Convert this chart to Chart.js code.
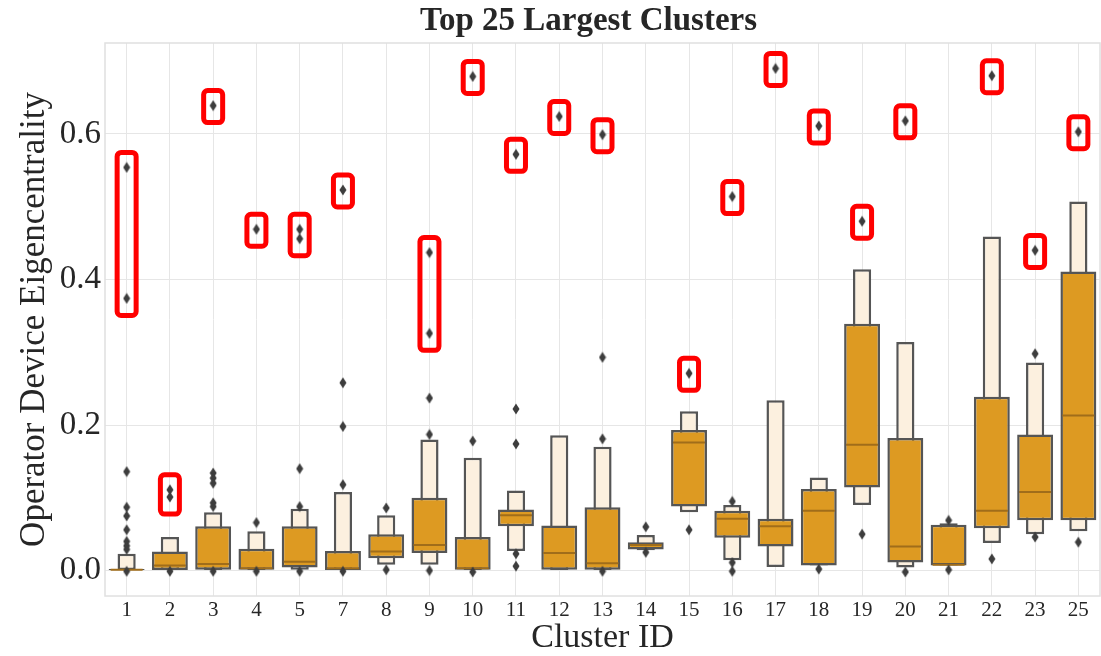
<!DOCTYPE html>
<html>
<head>
<meta charset="utf-8">
<script src="https://cdn.jsdelivr.net/npm/chart.js@4/dist/chart.umd.min.js"></script>
<style>
  html, body { margin: 0; padding: 0; background: #fff; overflow: hidden; }
</style>
</head>
<body>
<canvas id="c" width="1101" height="656"></canvas>
<script>
// cluster ids on the x axis
const clusters = ["1","2","3","4","5","7","8","9","10","11","12","13","14","15","16","17","18","19","20","21","22","23","25"];

// inner (quartile) boxes
const q1 = [0.000,0.000,0.001,0.001,0.004,0.000,0.017,0.024,0.001,0.061,0.001,0.001,0.029,0.088,0.045,0.033,0.007,0.114,0.011,0.007,0.058,0.069,0.069];
const q3 = [0.002,0.026,0.061,0.030,0.061,0.027,0.050,0.100,0.046,0.084,0.062,0.087,0.039,0.193,0.082,0.071,0.112,0.339,0.182,0.063,0.239,0.187,0.411];
const medians = [0.001,0.007,0.009,0.003,0.012,0.003,0.026,0.035,0.003,0.076,0.024,0.010,0.035,0.176,0.071,0.061,0.082,0.173,0.033,0.008,0.082,0.108,0.213];

// outer (eighths) boxes
const lowE  = [0.000,0.000,0.000,0.000,0.001,0.000,0.008,0.008,0.000,0.027,0.000,0.000,0.028,0.080,0.014,0.005,0.007,0.090,0.004,0.007,0.038,0.050,0.054];
const highE = [0.023,0.046,0.080,0.054,0.085,0.108,0.076,0.180,0.155,0.110,0.186,0.170,0.049,0.219,0.090,0.234,0.128,0.414,0.314,0.065,0.459,0.286,0.507];

// ordinary outliers
const outliers = [
  [0.136,0.087,0.075,0.056,0.040,0.034,0.029,-0.001],
  [-0.001],
  [0.134,0.127,0.120,0.093,0.088,-0.001],
  [0.066,-0.001],
  [0.140,0.088,-0.001],
  [0.258,0.198,0.118,-0.001],
  [0.086,0.001],
  [0.237,0.187,0.000],
  [0.178,-0.002],
  [0.222,0.174,0.023,0.006],
  [],
  [0.293,0.181,-0.001],
  [0.060,0.025],
  [0.056],
  [0.095,0.011,-0.001],
  [],
  [0.002],
  [0.050],
  [-0.002],
  [0.069,0.001],
  [0.016],
  [0.298,0.046],
  [0.039]
];

// outliers marked with the red frames
const flagged = [
  [0.554,0.374],[0.111,0.101],[0.639],[0.469],[0.469,0.456],[0.523],[],[0.437,0.326],[0.679],[0.572],
  [0.624],[0.599],[],[0.271],[0.514],[0.690],[0.611],[0.480],[0.618],[],[0.680],[0.440],[0.603]
];

const yTicks = [0, 0.2, 0.4, 0.6];
const chartTitle = 'Top 25 Largest Clusters';

const serif = '"Liberation Serif", "DejaVu Serif", serif';
const textCol = '#262626';

// elongated diamond marker
const diamond = document.createElement('canvas');
diamond.width = 8; diamond.height = 12;
(function () {
  const g = diamond.getContext('2d');
  g.fillStyle = '#3d3d3d';
  g.beginPath();
  g.moveTo(4, 0.5); g.lineTo(7.5, 6); g.lineTo(4, 11.5); g.lineTo(0.5, 6);
  g.closePath(); g.fill();
})();

const pointData = [];
clusters.forEach((c, i) => {
  outliers[i].forEach(v => pointData.push({ x: c, y: v }));
  flagged[i].forEach(v => pointData.push({ x: c, y: v }));
});

const framePlugin = {
  id: 'frame',
  beforeDatasetsDraw(chart) {
    const { ctx, chartArea: a } = chart;
    ctx.save();
    ctx.strokeStyle = '#e0e0e0';
    ctx.lineWidth = 1.5;
    ctx.strokeRect(a.left, a.top, a.right - a.left, a.bottom - a.top);
    ctx.restore();
  },
  afterDatasetsDraw(chart) {
    const { ctx, chartArea: a } = chart;
    const xs = chart.scales.x, ys = chart.scales.y;
    ctx.save();
    ctx.strokeStyle = '#ff0000';
    ctx.lineWidth = 5;
    flagged.forEach((vals, i) => {
      if (!vals.length) return;
      const x = xs.getPixelForValue(i);
      const top = ys.getPixelForValue(Math.max(...vals)) - 15;
      const bot = ys.getPixelForValue(Math.min(...vals)) + 17;
      ctx.beginPath();
      ctx.roundRect(x - 9.5, top, 19, bot - top, 4);
      ctx.stroke();
    });
    // title, sitting a bit left of the plot centre as in the source figure
    ctx.fillStyle = textCol;
    ctx.font = 'bold 33px ' + serif;
    ctx.textAlign = 'center';
    ctx.textBaseline = 'alphabetic';
    ctx.fillText(chartTitle, (a.left + a.right) / 2 - 14, 30);
    ctx.restore();
  }
};

new Chart(document.getElementById('c'), {
  type: 'bar',
  data: {
    labels: clusters,
    datasets: [
      {
        data: clusters.map((c, i) => [lowE[i], highE[i]]),
        backgroundColor: '#fcf0df',
        borderColor: '#555555',
        borderWidth: 2.5,
        borderSkipped: false,
        barPercentage: 0.42,
        categoryPercentage: 1,
        grouped: false,
        order: 3
      },
      {
        data: clusters.map((c, i) => [q1[i], q3[i]]),
        backgroundColor: '#dd9a22',
        borderColor: '#555555',
        borderWidth: 2.5,
        borderSkipped: false,
        barPercentage: 0.83,
        categoryPercentage: 1,
        grouped: false,
        order: 2
      },
      {
        type: 'line',
        data: clusters.map((c, i) => ({ x: c, y: medians[i] })),
        showLine: false,
        pointStyle: 'line',
        pointRadius: 16,
        borderColor: '#a06d1a',
        borderWidth: 2,
        order: 1
      },
      {
        type: 'line',
        data: pointData,
        showLine: false,
        pointStyle: diamond,
        pointRadius: 5,
        order: 0
      }
    ]
  },
  options: {
    responsive: false,
    animation: false,
    layout: { autoPadding: false, padding: { right: 1, left: 0, top: 43, bottom: 0 } },
    plugins: {
      legend: { display: false },
      tooltip: { enabled: false },
      title: { display: false }
    },
    scales: {
      x: {
        offset: true,
        grid: { color: '#e6e6e6', lineWidth: 1, offset: false, drawTicks: false },
        border: { display: false },
        ticks: { color: textCol, font: { family: serif, size: 21 }, padding: 2 },
        title: {
          display: true, text: 'Cluster ID', color: textCol,
          font: { family: serif, size: 34 }, padding: { top: 0, bottom: -2.5 }
        },
        afterFit(s) { s.height = 60; s.paddingLeft = 0; s.paddingRight = 0; }
      },
      y: {
        min: -0.035,
        max: 0.725,
        grid: { color: '#e6e6e6', lineWidth: 1, drawTicks: false },
        border: { display: false },
        afterBuildTicks(s) { s.ticks = yTicks.map(v => ({ value: v })); },
        ticks: {
          color: textCol, font: { family: serif, size: 33 }, padding: 4,
          callback: v => Number(v).toFixed(1)
        },
        title: {
          display: true, text: 'Operator Device Eigencentrality', color: textCol,
          font: { family: serif, size: 35 }, padding: { top: 14, bottom: 0 }
        },
        afterFit(s) { s.width = 105; s.paddingTop = 0; s.paddingBottom = 0; }
      }
    }
  },
  plugins: [framePlugin]
});
</script>
</body>
</html>
